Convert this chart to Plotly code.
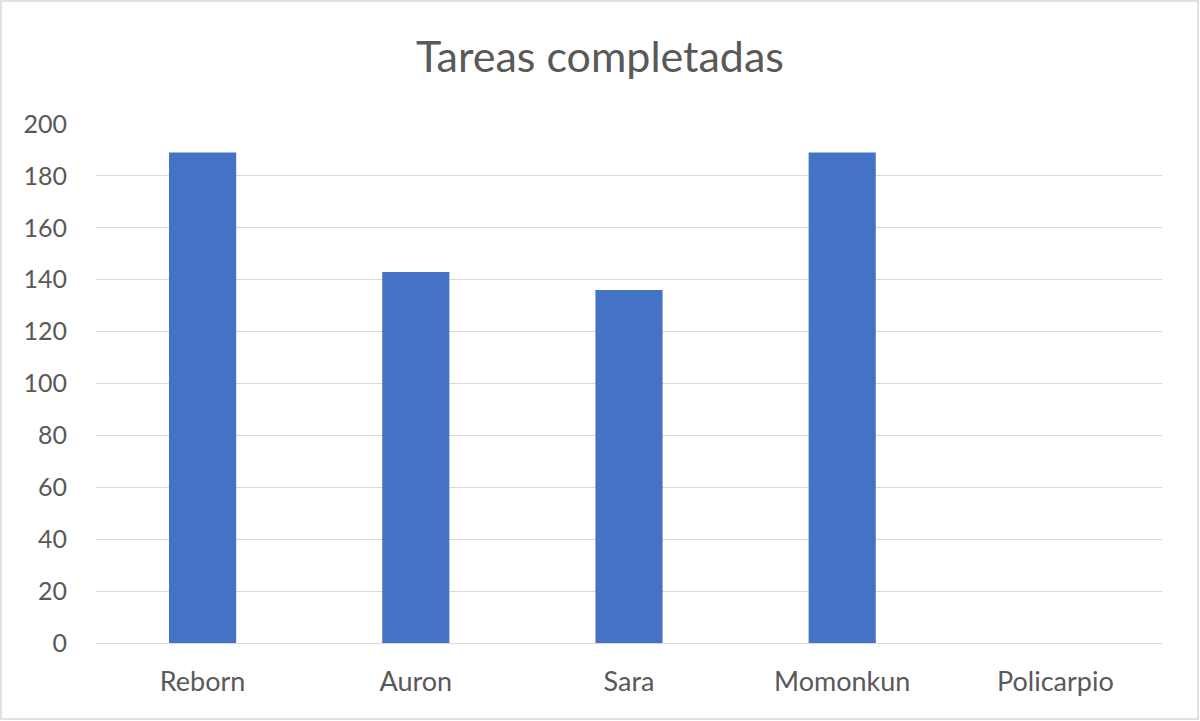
import plotly.graph_objects as go

categories = ["Reborn", "Auron", "Sara", "Momonkun", "Policarpio"]
values = [189, 143, 136, 189, 0]
title_text = "Tareas completadas"

W, H = 1200, 721
ml, mr, mt, mb = 96, 38, 124, 78
pw, ph = W - ml - mr, H - mt - mb

fig = go.Figure(go.Bar(x=categories, y=values, marker=dict(color="#4472C4", line=dict(width=0)),
                       hoverinfo="x+y"))

fig.update_layout(
    width=W, height=H,
    margin=dict(l=ml, r=mr, t=mt, b=mb, pad=0),
    paper_bgcolor="white", plot_bgcolor="white",
    bargap=0.685,
    showlegend=False,
    font=dict(family="Lato, Carlito, Calibri, sans-serif", color="#595959", size=25),
    title=dict(text=title_text, x=0.5, xanchor="center", y=1 - 57 / H, yanchor="middle",
               font=dict(size=43, color="#595959")),
    xaxis=dict(showgrid=False, showline=True, linecolor="#D9D9D9", linewidth=1,
               ticks="", ticklabelstandoff=15, tickfont=dict(size=27, color="#595959")),
    yaxis=dict(range=[0, 200], dtick=20, tick0=0, showgrid=True, gridcolor="#D9D9D9", gridwidth=1,
               zeroline=False, showline=False, ticks="", ticklabelstandoff=28,
               tickfont=dict(size=25, color="#595959")),
    shapes=[dict(type="rect", xref="paper", yref="paper",
                 x0=(1 - ml) / pw, x1=(W - 2 - ml) / pw,
                 y0=-(mb - 2) / ph, y1=1 + (mt - 1) / ph,
                 line=dict(color="#D9D9D9", width=1.5), fillcolor="rgba(0,0,0,0)", layer="below")],
)

fig.write_html("out.html", config={"displayModeBar": False},
               post_script="document.body.style.margin='0';document.body.style.overflow='hidden';")
